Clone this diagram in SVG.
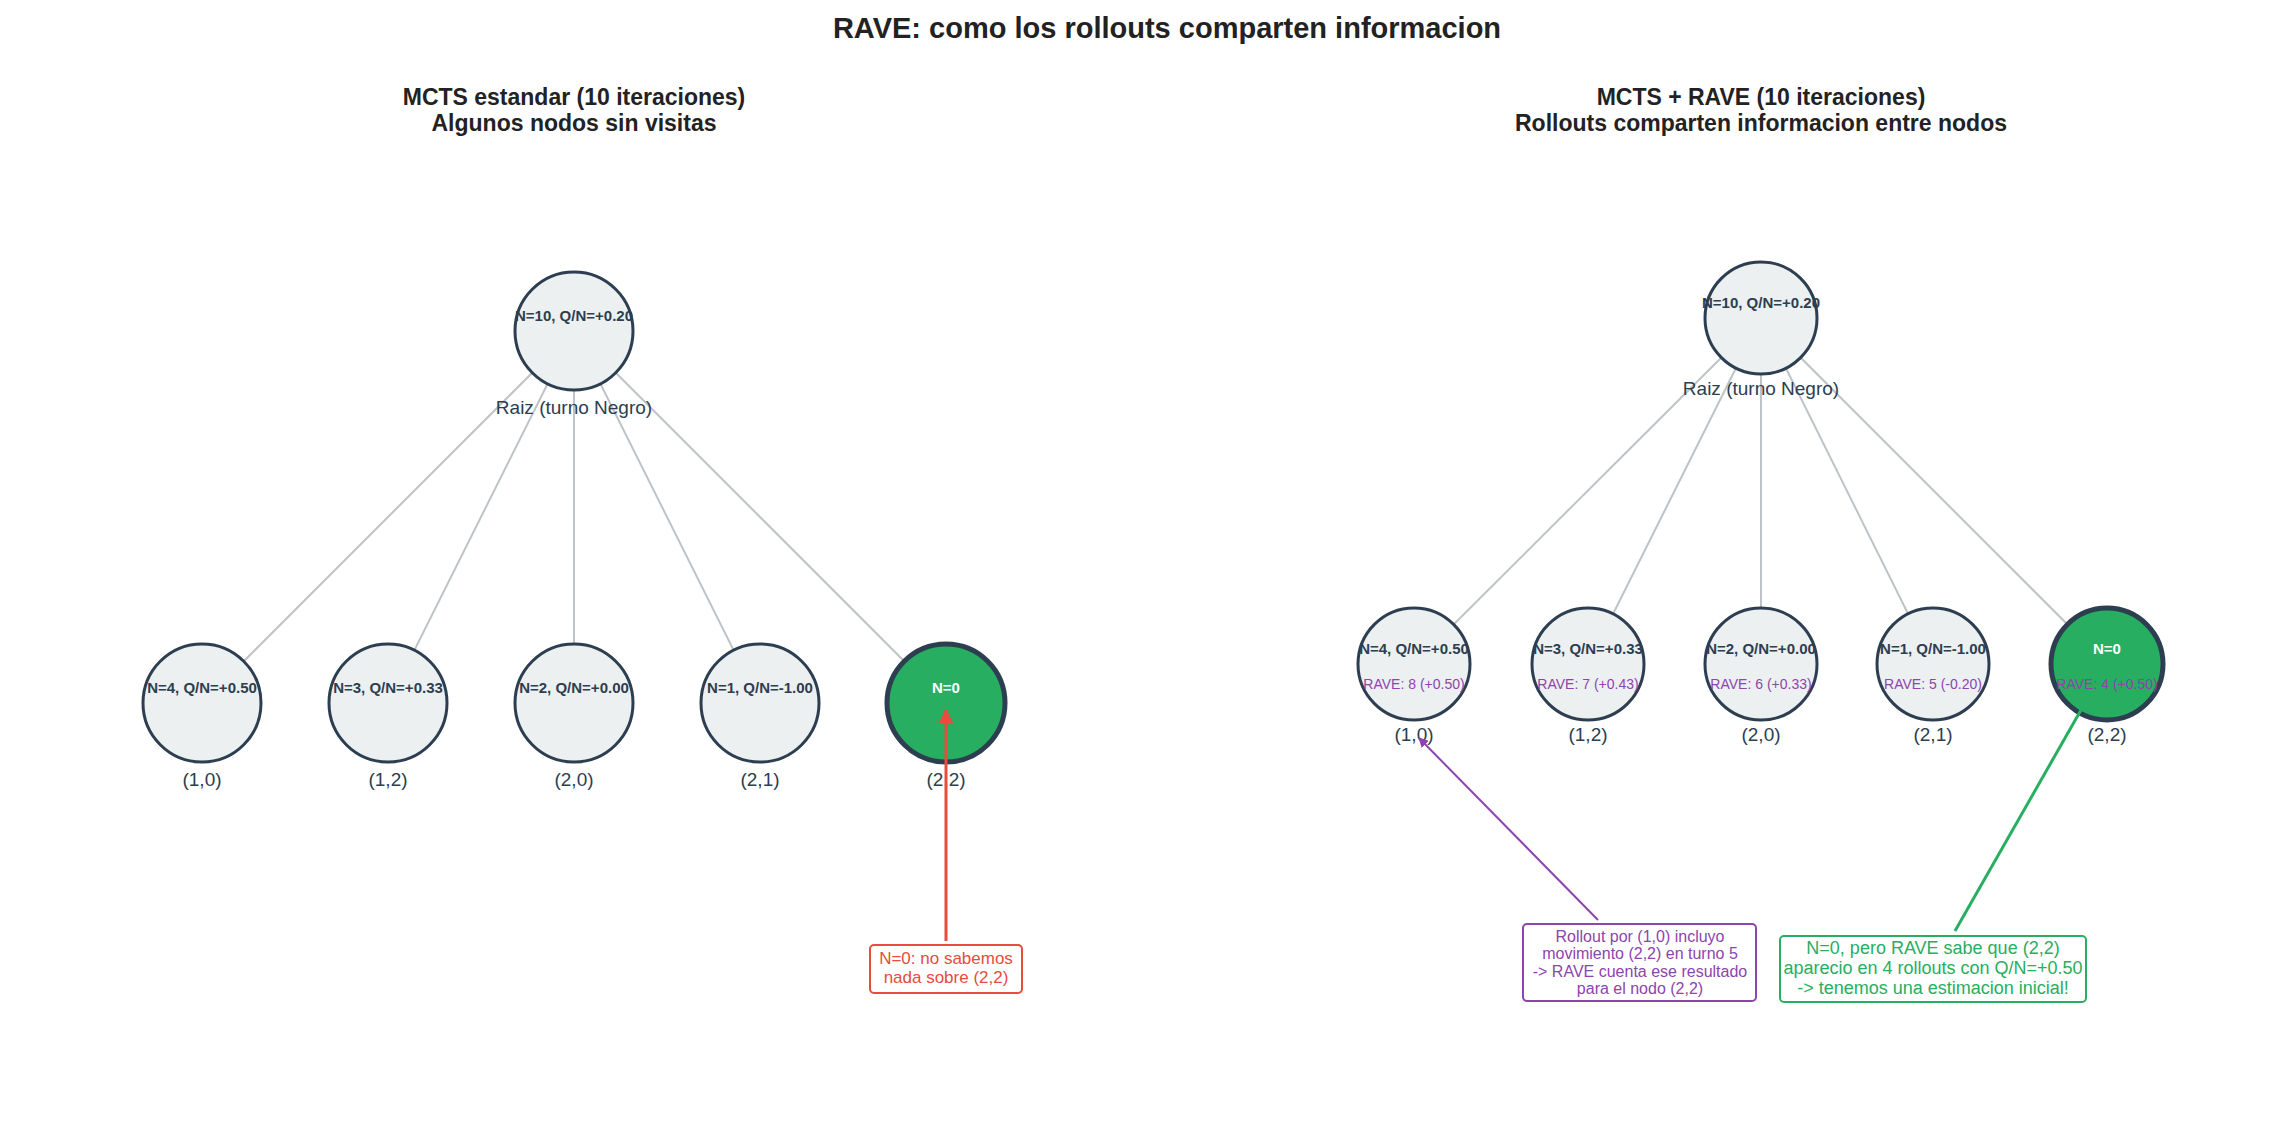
<svg xmlns="http://www.w3.org/2000/svg" width="2296" height="1148" viewBox="0 0 2296 1148">
<style>
text{font-family:"Liberation Sans",Arial,sans-serif;text-anchor:middle}
.t{font-size:29px;font-weight:bold;fill:#222}
.st{font-size:23px;font-weight:bold;fill:#222}
.n{fill:#ecf0f1;stroke:#2c3e50;stroke-width:3}
.g{fill:#27ae60;stroke:#2c3e50;stroke-width:5}
.nt{font-size:15px;font-weight:bold;fill:#2c3e50}
.wt{font-size:15px;font-weight:bold;fill:#fff}
.rv{font-size:14px;fill:#8e44ad}
.lb{font-size:19px;fill:#2c3e50}
.e{stroke:#bdc3c7;stroke-width:2}
</style>
<defs>
<marker id="ar" viewBox="0 0 10 10" refX="9" refY="5" markerWidth="5" markerHeight="5" orient="auto"><path d="M0,0L10,5L0,10z" fill="#e74c3c"/></marker>
<marker id="ap" viewBox="0 0 10 10" refX="9" refY="5" markerWidth="5" markerHeight="5" orient="auto"><path d="M0,0L10,5L0,10z" fill="#8e44ad"/></marker>
</defs>
<rect width="2296" height="1148" fill="#fff"/>
<text class="t" x="1167" y="38">RAVE: como los rollouts comparten informacion</text>
<text class="st" x="574" y="105">MCTS estandar (10 iteraciones)</text>
<text class="st" x="574" y="131">Algunos nodos sin visitas</text>
<text class="st" x="1761" y="105">MCTS + RAVE (10 iteraciones)</text>
<text class="st" x="1761" y="131">Rollouts comparten informacion entre nodos</text>
<g id="edges">
<line class="e" x1="574" y1="331" x2="202" y2="703"/><line class="e" x1="574" y1="331" x2="388" y2="703"/><line class="e" x1="574" y1="331" x2="574" y2="703"/><line class="e" x1="574" y1="331" x2="760" y2="703"/><line class="e" x1="574" y1="331" x2="946" y2="703"/>
<line class="e" x1="1761" y1="318" x2="1414" y2="664"/><line class="e" x1="1761" y1="318" x2="1588" y2="664"/><line class="e" x1="1761" y1="318" x2="1761" y2="664"/><line class="e" x1="1761" y1="318" x2="1933" y2="664"/><line class="e" x1="1761" y1="318" x2="2107" y2="664"/>
</g>
<g id="l-root"><circle class="n" cx="574" cy="331" r="59"/><text class="nt" x="574" y="321">N=10, Q/N=+0.20</text><text class="lb" x="574" y="414">Raiz (turno Negro)</text></g>
<g id="l-10"><circle class="n" cx="202" cy="703" r="59"/><text class="nt" x="202" y="693">N=4, Q/N=+0.50</text><text class="lb" x="202" y="786">(1,0)</text></g>
<g id="l-12"><circle class="n" cx="388" cy="703" r="59"/><text class="nt" x="388" y="693">N=3, Q/N=+0.33</text><text class="lb" x="388" y="786">(1,2)</text></g>
<g id="l-20"><circle class="n" cx="574" cy="703" r="59"/><text class="nt" x="574" y="693">N=2, Q/N=+0.00</text><text class="lb" x="574" y="786">(2,0)</text></g>
<g id="l-21"><circle class="n" cx="760" cy="703" r="59"/><text class="nt" x="760" y="693">N=1, Q/N=-1.00</text><text class="lb" x="760" y="786">(2,1)</text></g>
<g id="l-22"><circle class="g" cx="946" cy="703" r="59"/><text class="wt" x="946" y="693">N=0</text><text class="lb" x="946" y="786">(2,2)</text></g>
<g id="r-root"><circle class="n" cx="1761" cy="318" r="56"/><text class="nt" x="1761" y="308">N=10, Q/N=+0.20</text><text class="lb" x="1761" y="395">Raiz (turno Negro)</text></g>
<g id="r-10"><circle class="n" cx="1414" cy="664" r="56"/><text class="nt" x="1414" y="654">N=4, Q/N=+0.50</text><text class="rv" x="1414" y="689">RAVE: 8 (+0.50)</text><text class="lb" x="1414" y="741">(1,0)</text></g>
<g id="r-12"><circle class="n" cx="1588" cy="664" r="56"/><text class="nt" x="1588" y="654">N=3, Q/N=+0.33</text><text class="rv" x="1588" y="689">RAVE: 7 (+0.43)</text><text class="lb" x="1588" y="741">(1,2)</text></g>
<g id="r-20"><circle class="n" cx="1761" cy="664" r="56"/><text class="nt" x="1761" y="654">N=2, Q/N=+0.00</text><text class="rv" x="1761" y="689">RAVE: 6 (+0.33)</text><text class="lb" x="1761" y="741">(2,0)</text></g>
<g id="r-21"><circle class="n" cx="1933" cy="664" r="56"/><text class="nt" x="1933" y="654">N=1, Q/N=-1.00</text><text class="rv" x="1933" y="689">RAVE: 5 (-0.20)</text><text class="lb" x="1933" y="741">(2,1)</text></g>
<g id="r-22"><circle class="g" cx="2107" cy="664" r="56"/><text class="wt" x="2107" y="654">N=0</text><text class="rv" x="2107" y="689">RAVE: 4 (+0.50)</text><text class="lb" x="2107" y="741">(2,2)</text></g>
<g id="annotations">
<line x1="946" y1="941" x2="946" y2="710" stroke="#e74c3c" stroke-width="3" marker-end="url(#ar)"/>
<rect x="870" y="945" width="152" height="48" rx="4" fill="#fff" stroke="#e74c3c" stroke-width="2"/>
<text x="946" y="964" font-size="17" fill="#e74c3c">N=0: no sabemos</text><text x="946" y="983" font-size="17" fill="#e74c3c">nada sobre (2,2)</text>
<line x1="1598" y1="920" x2="1419" y2="738" stroke="#8e44ad" stroke-width="2" marker-end="url(#ap)"/>
<rect x="1523" y="924" width="233" height="77" rx="4" fill="#fff" stroke="#8e44ad" stroke-width="2"/>
<text x="1640" y="942" font-size="16" fill="#8e44ad">Rollout por (1,0) incluyo</text><text x="1640" y="959" font-size="16" fill="#8e44ad">movimiento (2,2) en turno 5</text><text x="1640" y="977" font-size="16" fill="#8e44ad">-&gt; RAVE cuenta ese resultado</text><text x="1640" y="994" font-size="16" fill="#8e44ad">para el nodo (2,2)</text>
<line x1="1955" y1="931" x2="2081" y2="710" stroke="#27ae60" stroke-width="3"/>
<rect x="1780" y="936" width="306" height="66" rx="4" fill="#fff" stroke="#27ae60" stroke-width="2"/>
<text x="1933" y="954" font-size="18" fill="#27ae60">N=0, pero RAVE sabe que (2,2)</text><text x="1933" y="974" font-size="18" fill="#27ae60">aparecio en 4 rollouts con Q/N=+0.50</text><text x="1933" y="994" font-size="18" fill="#27ae60">-&gt; tenemos una estimacion inicial!</text>
</g>
</svg>
